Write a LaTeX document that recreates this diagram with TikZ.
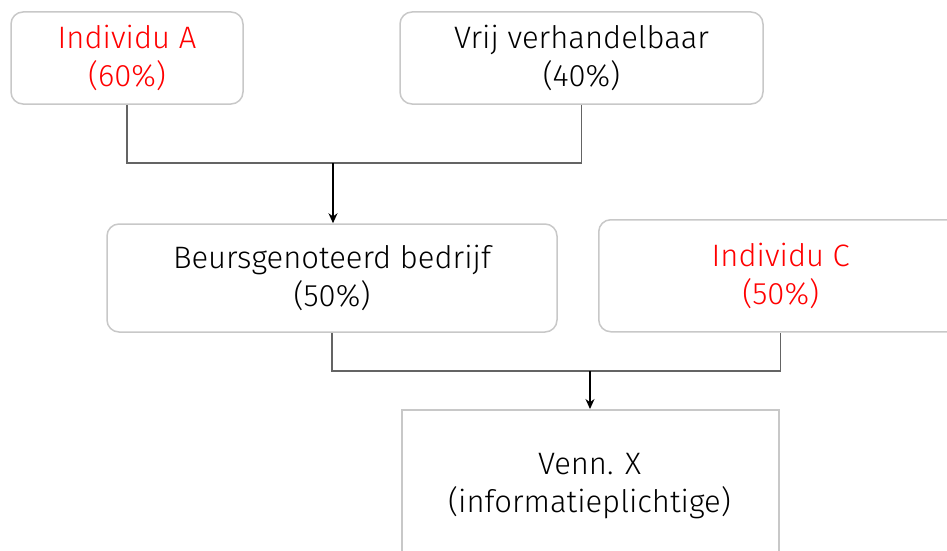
\documentclass[tikz,border=0pt]{standalone}
\usepackage{fontspec}
\setmainfont{Fira Sans}[UprightFont=* Light]
\usetikzlibrary{arrows.meta}
\definecolor{boxgray}{RGB}{200,200,200}
\definecolor{linegray}{RGB}{100,100,100}
\definecolor{myred}{RGB}{255,0,0}
\begin{document}
\begin{tikzpicture}[x=1pt,y=-1pt,
  box/.style={draw=boxgray,line width=1.5pt,rounded corners=12pt,fill=white,
    align=center,inner sep=0pt,font=\fontsize{31}{38}\selectfont},
  sqbox/.style={box,rounded corners=0pt},
  conn/.style={draw=linegray,line width=1.3pt},
  arr/.style={conn,-{Stealth[length=10pt,width=9pt]},color=black}]
\useasboundingbox (0,0) rectangle (947,551);
\node[box,minimum width=232pt,minimum height=92pt,text=myred] (A) at (127,58) {Individu A\\(60\%)};
\node[box,minimum width=363pt,minimum height=92pt] (V) at (581.5,58) {Vrij verhandelbaar\\(40\%)};
\node[box,minimum width=450pt,minimum height=108pt] (B) at (332,278) {Beursgenoteerd bedrijf\\(50\%)};
\node[box,minimum width=364pt,minimum height=112pt,text=myred,anchor=north west] (C) at (598,219) {Individu C\\(50\%)};
\node[sqbox,minimum width=377pt,minimum height=200pt,anchor=north west] (X) at (401,409) {};
\node[font=\fontsize{31}{38}\selectfont,align=center,inner sep=0pt] (Xt) at (589.5,486) {Venn. X\\(informatieplichtige)};
\coordinate (j1) at (333,163);
\coordinate (j2) at (590,371);
\draw[conn] (A.south) |- (j1) -| (V.south);
\draw[arr] (j1) -- (j1 |- B.north);
\draw[conn] (B.south) |- (j2) -| (C.south);
\draw[arr] (j2) -- (j2 |- X.north);
\end{tikzpicture}
\end{document}
